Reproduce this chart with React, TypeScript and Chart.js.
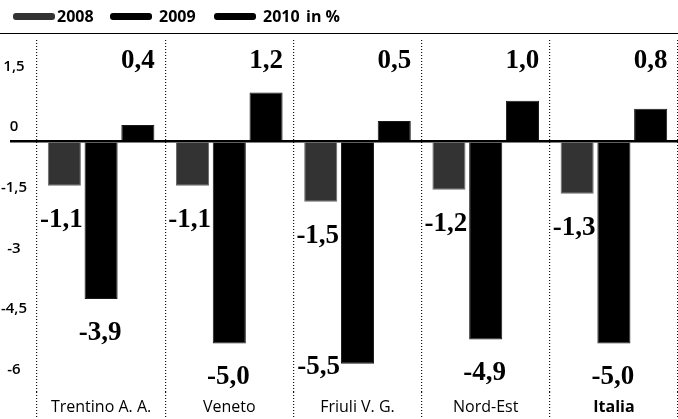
import React, { useEffect, useRef } from "react";
import { Chart, registerables } from "chart.js";

Chart.register(...registerables);

const categories = ["Trentino A. A.", "Veneto", "Friuli V. G.", "Nord-Est", "Italia"];
const values2008 = [-1.1, -1.1, -1.5, -1.2, -1.3];
const values2009 = [-3.9, -5.0, -5.5, -4.9, -5.0];
const values2010 = [0.4, 1.2, 0.5, 1.0, 0.8];
const yTickValues = [1.5, 0, -1.5, -3, -4.5, -6];
const seriesLabels = ["2008", "2009", "2010"];
const seriesColors = ["#333333", "#000000", "#000000"];
const unitLabel = "in %";

const commaNum = (v: number) => String(v).replace(".", ",");
const commaFixed = (v: number) => v.toFixed(1).replace(".", ",");

const valueLabelPlugin = {
  id: "valueLabels",
  afterDatasetsDraw(chart: any) {
    const { ctx, chartArea } = chart;
    ctx.save();
    ctx.font = 'bold 27px "Liberation Serif", "DejaVu Serif", serif';
    ctx.fillStyle = "#000";
    ctx.textBaseline = "middle";
    chart.data.datasets.forEach((ds: any, di: number) => {
      const meta = chart.getDatasetMeta(di);
      meta.data.forEach((bar: any, i: number) => {
        const v = ds.data[i] as number;
        const text = commaFixed(v);
        const { x, y, width } = bar.getProps(["x", "y", "width"], true);
        if (v >= 0) {
          ctx.textAlign = "center";
          ctx.fillText(text, x, chartArea.top + 21);
        } else if (di === 0) {
          ctx.textAlign = "center";
          ctx.fillText(text, x - 3, y + 34);
        } else if (y + 34 + 12 <= chartArea.bottom) {
          ctx.textAlign = "center";
          ctx.fillText(text, x - 1, y + 34);
        } else {
          ctx.textAlign = "right";
          ctx.fillText(text, x - width / 2 - 1, y + 3);
        }
      });
    });
    ctx.restore();
  },
};

export default function App() {
  const canvasRef = useRef<HTMLCanvasElement | null>(null);

  useEffect(() => {
    document.body.style.margin = "0";
    const canvas = canvasRef.current;
    if (!canvas) return;
    const chart = new Chart(canvas, {
      type: "bar",
      data: {
        labels: categories,
        datasets: [values2008, values2009, values2010].map((d, k) => ({
          label: seriesLabels[k],
          data: d,
          backgroundColor: seriesColors[k],
          borderColor: k === 0 ? "#6a6a6a" : "#1a1a1a",
          borderWidth: 1,
          categoryPercentage: 0.86,
          barPercentage: 0.9,
        })),
      },
      options: {
        responsive: false,
        animation: false,
        devicePixelRatio: 1,
        layout: { padding: { top: 40, left: 0, right: 0, bottom: 0 } },
        plugins: {
          legend: { display: false },
          tooltip: { enabled: false },
          title: { display: false },
        },
        scales: {
          x: {
            offset: true,
            border: { display: false, dash: [1, 2] },
            grid: {
              offset: true,
              drawOnChartArea: true,
              drawTicks: true,
              tickLength: 27,
              tickBorderDash: [1, 2],
              color: (c: any) => (c.index >= categories.length ? "rgba(0,0,0,0)" : "#111"),
              tickColor: (c: any) => (c.index >= categories.length ? "rgba(0,0,0,0)" : "#111"),
              lineWidth: 1.2,
              tickWidth: 1.2,
            },
            ticks: {
              padding: -21,
              color: "#000",
              font: (c: any) => ({
                family: '"Open Sans", "Noto Sans", sans-serif',
                size: 16,
                weight: c.index === categories.length - 1 ? "bold" : "normal",
              }),
            },
            afterFit: (s: any) => {
              s.height = 27;
            },
          },
          y: {
            min: -6.2,
            max: 2.5,
            border: { display: false },
            afterBuildTicks: (s: any) => {
              s.ticks = yTickValues.map((v) => ({ value: v }));
            },
            afterFit: (s: any) => {
              s.width = 37;
            },
            grid: {
              drawTicks: true,
              tickLength: 27,
              color: (c: any) => (c.tick && c.tick.value === 0 ? "#000" : "rgba(0,0,0,0)"),
              tickColor: (c: any) => (c.tick && c.tick.value === 0 ? "#000" : "rgba(0,0,0,0)"),
              lineWidth: 2.5,
              tickWidth: 2.5,
            },
            ticks: {
              padding: -17,
              crossAlign: "center",
              labelOffset: -14,
              color: "#000",
              font: { family: '"Open Sans", "Noto Sans", sans-serif', size: 15, weight: 600 },
              callback: (v: any) => commaNum(Number(v)),
            },
          },
        },
      },
      plugins: [valueLabelPlugin],
    } as any);
    return () => chart.destroy();
  }, []);

  const legendFont = '"Open Sans", "Noto Sans", sans-serif';
  const swatch = (color: string, left: number) => (
    <span
      style={{
        position: "absolute",
        left,
        top: 13,
        width: 42,
        height: 7,
        borderRadius: 3,
        background: color,
      }}
    />
  );
  const text = (t: string, left: number) => (
    <span
      style={{
        position: "absolute",
        left,
        top: 5,
        fontFamily: legendFont,
        fontWeight: 700,
        fontSize: 16,
        lineHeight: "22px",
        color: "#000",
      }}
    >
      {t}
    </span>
  );

  return (
    <div style={{ position: "relative", width: 678, height: 419, background: "#fff", overflow: "hidden" }}>
      <canvas ref={canvasRef} width={678} height={419} style={{ position: "absolute", left: 0, top: 0 }} />
      <div
        style={{
          position: "absolute",
          left: 0,
          top: 0,
          width: 678,
          height: 33,
          borderBottom: "1.5px solid #000",
        }}
      >
        {swatch(seriesColors[0], 13)}
        {text(seriesLabels[0], 57)}
        {swatch(seriesColors[1], 110)}
        {text(seriesLabels[1], 159)}
        {swatch(seriesColors[2], 214)}
        {text(seriesLabels[2], 263)}
        {text(unitLabel, 306)}
      </div>
    </div>
  );
}
